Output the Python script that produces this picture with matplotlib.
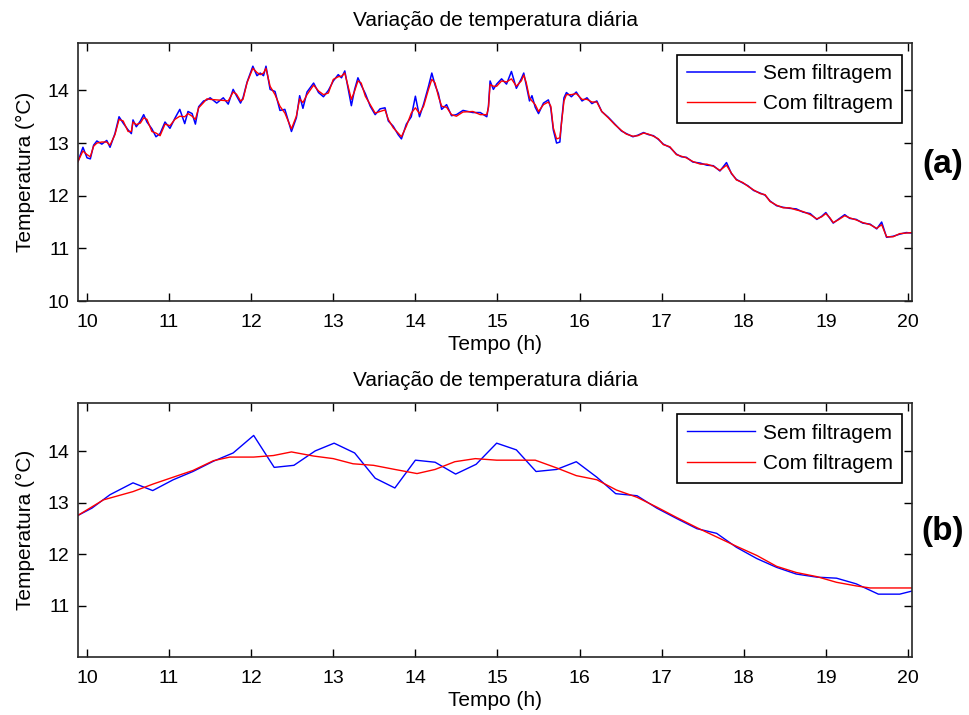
import matplotlib.pyplot as plt

plt.rcParams['font.family'] = ['Liberation Sans', 'DejaVu Sans']

# top panel (a): raw and filtered series, sampled densely
hours_a = [9.89, 9.95, 10.00, 10.04, 10.08, 10.12, 10.18, 10.24, 10.28, 10.34,
           10.39, 10.44, 10.50, 10.54, 10.56, 10.60, 10.65, 10.69, 10.73, 10.79,
           10.84, 10.89, 10.95, 11.01, 11.07, 11.13, 11.19, 11.23, 11.28, 11.32,
           11.36, 11.42, 11.46, 11.50, 11.58, 11.66, 11.72, 11.78, 11.82, 11.87,
           11.90, 11.95, 12.02, 12.07, 12.11, 12.15, 12.18, 12.23, 12.29, 12.35,
           12.41, 12.49, 12.55, 12.59, 12.63, 12.68, 12.76, 12.82, 12.88, 12.94,
           13.00, 13.06, 13.10, 13.14, 13.18, 13.22, 13.26, 13.30, 13.34, 13.39,
           13.45, 13.51, 13.57, 13.63, 13.67, 13.73, 13.79, 13.83, 13.89, 13.95,
           14.00, 14.05, 14.10, 14.16, 14.20, 14.24, 14.28, 14.32, 14.38, 14.44,
           14.50, 14.58, 14.70, 14.79, 14.87, 14.89, 14.91, 14.95, 14.99, 15.05,
           15.11, 15.17, 15.23, 15.29, 15.32, 15.35, 15.39, 15.42, 15.46, 15.50,
           15.56, 15.62, 15.65, 15.68, 15.72, 15.76, 15.78, 15.81, 15.84, 15.90,
           15.96, 16.03, 16.09, 16.15, 16.21, 16.27, 16.35, 16.43, 16.51, 16.57,
           16.65, 16.71, 16.78, 16.84, 16.90, 16.96, 17.02, 17.10, 17.18, 17.24,
           17.30, 17.38, 17.47, 17.55, 17.63, 17.71, 17.79, 17.85, 17.91, 17.99,
           18.05, 18.12, 18.20, 18.26, 18.32, 18.40, 18.48, 18.56, 18.64, 18.72,
           18.81, 18.89, 18.95, 19.00, 19.05, 19.09, 19.15, 19.23, 19.29, 19.37,
           19.45, 19.54, 19.62, 19.68, 19.74, 19.82, 19.90, 19.98, 20.05]

raw_a = [12.65, 12.92, 12.72, 12.70, 12.96, 13.04, 12.98, 13.05, 12.92, 13.18,
         13.50, 13.38, 13.25, 13.18, 13.44, 13.31, 13.42, 13.54, 13.40, 13.27,
         13.12, 13.18, 13.40, 13.28, 13.47, 13.64, 13.37, 13.60, 13.56, 13.36,
         13.69, 13.80, 13.82, 13.86, 13.76, 13.86, 13.74, 14.02, 13.90, 13.76,
         13.86, 14.16, 14.46, 14.28, 14.33, 14.28, 14.46, 14.02, 13.98, 13.62,
         13.64, 13.22, 13.48, 13.90, 13.66, 13.97, 14.14, 13.96, 13.88, 14.00,
         14.18, 14.30, 14.24, 14.37, 14.04, 13.71, 14.02, 14.24, 14.10, 13.94,
         13.70, 13.54, 13.65, 13.67, 13.42, 13.32, 13.16, 13.08, 13.36, 13.50,
         13.89, 13.50, 13.74, 14.08, 14.33, 14.10, 13.94, 13.64, 13.73, 13.52,
         13.54, 13.62, 13.58, 13.58, 13.50, 13.70, 14.18, 14.02, 14.12, 14.22,
         14.12, 14.36, 14.04, 14.22, 14.33, 14.10, 13.80, 13.90, 13.68, 13.56,
         13.76, 13.82, 13.66, 13.25, 13.00, 13.02, 13.40, 13.86, 13.96, 13.88,
         13.97, 13.80, 13.86, 13.75, 13.80, 13.60, 13.49, 13.36, 13.23, 13.18,
         13.12, 13.15, 13.20, 13.16, 13.14, 13.07, 12.98, 12.92, 12.79, 12.74,
         12.73, 12.64, 12.62, 12.58, 12.57, 12.47, 12.63, 12.42, 12.31, 12.24,
         12.19, 12.10, 12.05, 12.01, 11.90, 11.81, 11.78, 11.76, 11.75, 11.69,
         11.66, 11.55, 11.61, 11.68, 11.57, 11.48, 11.55, 11.64, 11.57, 11.55,
         11.48, 11.46, 11.37, 11.50, 11.21, 11.23, 11.27, 11.30, 11.29]

filt_a = [12.65, 12.85, 12.78, 12.74, 12.94, 13.00, 13.02, 13.02, 12.96, 13.16,
          13.45, 13.42, 13.22, 13.22, 13.40, 13.35, 13.38, 13.48, 13.45, 13.22,
          13.19, 13.14, 13.36, 13.33, 13.45, 13.51, 13.50, 13.56, 13.51, 13.45,
          13.67, 13.77, 13.84, 13.83, 13.82, 13.81, 13.80, 13.97, 13.93, 13.80,
          13.83, 14.15, 14.42, 14.34, 14.30, 14.33, 14.42, 14.08, 13.92, 13.70,
          13.57, 13.27, 13.51, 13.84, 13.77, 13.92, 14.10, 13.99, 13.92, 13.95,
          14.21, 14.26, 14.27, 14.33, 14.08, 13.83, 13.99, 14.18, 14.14, 13.89,
          13.73, 13.57, 13.60, 13.63, 13.45, 13.29, 13.19, 13.12, 13.32, 13.57,
          13.67, 13.56, 13.70, 14.02, 14.21, 14.14, 13.89, 13.70, 13.68, 13.54,
          13.51, 13.59, 13.60, 13.54, 13.54, 13.67, 14.11, 14.08, 14.08, 14.18,
          14.16, 14.22, 14.08, 14.18, 14.29, 14.15, 13.86, 13.80, 13.73, 13.60,
          13.73, 13.78, 13.70, 13.29, 13.08, 13.10, 13.38, 13.80, 13.92, 13.92,
          13.94, 13.83, 13.83, 13.78, 13.78, 13.60, 13.48, 13.35, 13.24, 13.17,
          13.13, 13.14, 13.19, 13.17, 13.13, 13.08, 12.97, 12.93, 12.78, 12.75,
          12.72, 12.65, 12.60, 12.60, 12.56, 12.48, 12.58, 12.43, 12.30, 12.25,
          12.18, 12.11, 12.04, 12.02, 11.89, 11.82, 11.77, 11.77, 11.73, 11.70,
          11.64, 11.56, 11.60, 11.66, 11.58, 11.49, 11.54, 11.62, 11.58, 11.54,
          11.49, 11.45, 11.38, 11.45, 11.22, 11.22, 11.28, 11.29, 11.30]

# bottom panel (b): 15-minute samples and smoothed curve
hours_b_raw = [9.88, 10.06, 10.28, 10.56, 10.80, 11.05, 11.29, 11.54, 11.78, 12.03,
               12.28, 12.52, 12.78, 13.01, 13.26, 13.51, 13.75, 14.00, 14.24, 14.49,
               14.74, 14.99, 15.23, 15.47, 15.72, 15.96, 16.21, 16.44, 16.70, 16.94,
               17.18, 17.43, 17.67, 17.91, 18.16, 18.40, 18.64, 18.89, 19.13, 19.37,
               19.64, 19.90, 20.05]
raw_b = [12.75, 12.90, 13.16, 13.39, 13.24, 13.45, 13.61, 13.81, 13.97, 14.31,
         13.69, 13.73, 14.01, 14.16, 13.97, 13.48, 13.29, 13.83, 13.79, 13.56,
         13.75, 14.16, 14.03, 13.61, 13.65, 13.80, 13.50, 13.18, 13.14, 12.90,
         12.70, 12.50, 12.41, 12.14, 11.92, 11.75, 11.62, 11.56, 11.54, 11.43,
         11.23, 11.23, 11.29]

hours_b_filt = [9.88, 10.20, 10.56, 10.81, 11.05, 11.29, 11.54, 11.74, 12.03, 12.27,
                12.49, 12.76, 13.00, 13.24, 13.49, 13.75, 14.02, 14.24, 14.48, 14.73,
                14.99, 15.46, 15.72, 15.96, 16.21, 16.45, 16.70, 16.94, 17.18, 17.43,
                17.67, 17.91, 18.16, 18.40, 18.64, 18.89, 19.13, 19.37, 19.54, 20.05]
filt_b = [12.75, 13.06, 13.22, 13.37, 13.50, 13.63, 13.82, 13.89, 13.89, 13.92,
          13.99, 13.91, 13.86, 13.76, 13.73, 13.65, 13.57, 13.65, 13.80, 13.86,
          13.83, 13.83, 13.68, 13.53, 13.45, 13.25, 13.11, 12.92, 12.72, 12.52,
          12.34, 12.16, 11.98, 11.77, 11.65, 11.57, 11.46, 11.39, 11.35, 11.35]

title = 'Variação de temperatura diária'

fig = plt.figure(figsize=(9.69, 7.15), dpi=100)
ax1 = fig.add_axes([0.0805, 0.579, 0.8607, 0.3608])
ax2 = fig.add_axes([0.0805, 0.0811, 0.8607, 0.3553])

ax1.plot(hours_a, raw_a, color='#0000ff', lw=1.1, label='Sem filtragem')
ax1.plot(hours_a, filt_a, color='#ff0000', lw=1.0, label='Com filtragem')
ax2.plot(hours_b_raw, raw_b, color='#0000ff', lw=1.0, label='Sem filtragem')
ax2.plot(hours_b_filt, filt_b, color='#ff0000', lw=1.0, label='Com filtragem')

for ax in (ax1, ax2):
    ax.set_xlim(9.89, 20.05)
    ax.set_xticks(range(10, 21))
    ax.set_title(title, fontsize=15, pad=12)
    ax.set_xlabel('Tempo (h)', fontsize=15, labelpad=3)
    ax.set_ylabel('Temperatura (°C)', fontsize=15, labelpad=9)
    ax.tick_params(direction='in', top=True, right=True, length=6, width=1,
                   labelsize=14)
    ax.tick_params(axis='x', pad=9)
    ax.tick_params(axis='y', pad=6)
    for s in ax.spines.values():
        s.set_linewidth(1.2)
        s.set_color('#262626')
    leg = ax.legend(loc='upper right', bbox_to_anchor=(0.988, 0.955), fontsize=15,
                    fancybox=False, framealpha=1, edgecolor='black',
                    handlelength=3.3, handletextpad=0.35, labelspacing=0.55,
                    borderpad=0.45, borderaxespad=0)
    leg.get_frame().set_linewidth(1.2)

ax1.set_ylim(10, 14.9)
ax1.set_yticks([10, 11, 12, 13, 14])
ax2.set_ylim(10.01, 14.94)
ax2.set_yticks([11, 12, 13, 14])

fig.text(0.9727, 0.7706, '(a)', fontsize=24, fontweight='bold', ha='center', va='center')
fig.text(0.9727, 0.2573, '(b)', fontsize=24, fontweight='bold', ha='center', va='center')

fig.savefig('out.png', dpi=100)
